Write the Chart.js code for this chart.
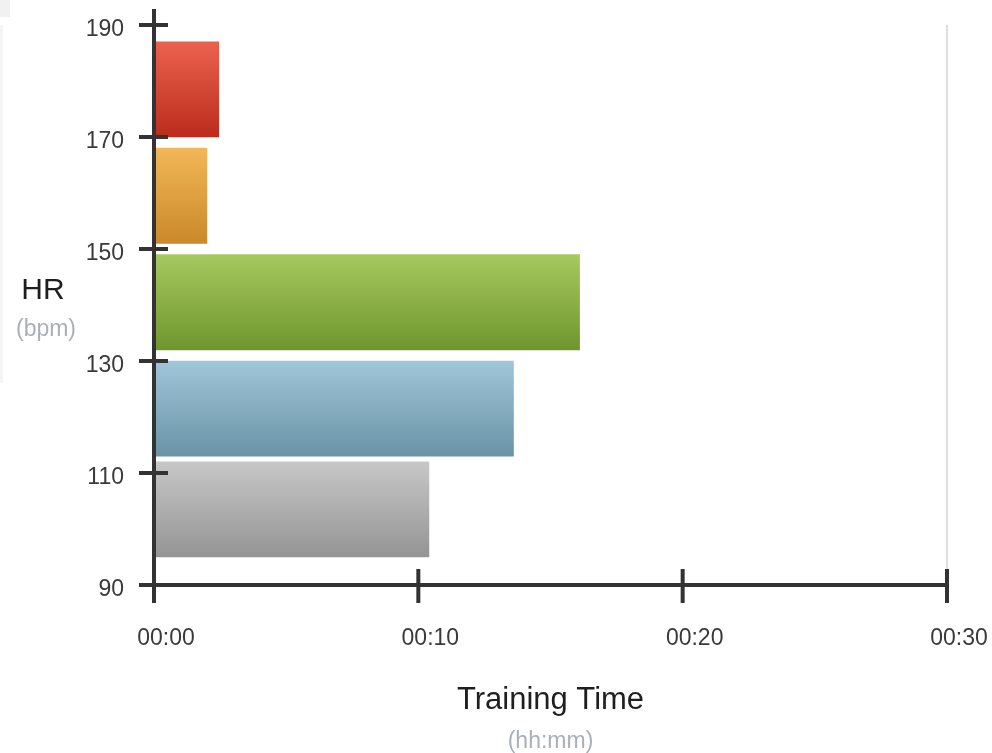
<!DOCTYPE html>
<html lang="en">
<head>
  <meta charset="UTF-8">
  <title>HR Zones - Training Time</title>
  <script src="https://cdn.jsdelivr.net/npm/chart.js"></script>
  <style>
    html, body { margin: 0; padding: 0; background: #fff; }
    canvas { display: block; }
  </style>
</head>
<body>
  <canvas id="chart" width="992" height="753"></canvas>

  <script>
    // heart rate zones (bpm), listed bottom to top
    const zoneLow = [95, 113, 132, 151, 170];
    const zoneHigh = [112, 130, 149, 168, 187];
    // time spent in each zone, in minutes
    const zoneMinutes = [10.4, 13.6, 16.1, 2.0, 2.45];
    // gradient colours per zone (top -> bottom)
    const zoneTop = ['#c7c7c7', '#a0c6d8', '#a7c95f', '#f2b758', '#ea624d'];
    const zoneBottom = ['#949494', '#6a93a7', '#6e962e', '#ca892a', '#bc2c1c'];
    // axis ticks
    const hrTicks = [90, 110, 130, 150, 170, 190];
    const timeTicks = [0, 10, 20, 30];

    const FONT = "'Liberation Sans', Arial, sans-serif";

    function fmtTime(min) {
      const h = Math.floor(min / 60);
      const m = Math.round(min % 60);
      return String(h).padStart(2, '0') + ':' + String(m).padStart(2, '0');
    }

    // axis lines + cross ticks, titles, faint panel on the left
    const decorPlugin = {
      id: 'decor',
      beforeDraw(chart) {
        const ctx = chart.ctx;
        ctx.save();
        ctx.fillStyle = '#f1f1f1';
        ctx.fillRect(0, 0, 10, 17);
        ctx.fillStyle = '#f4f4f4';
        ctx.fillRect(0, 25, 3, 358);
        ctx.restore();
      },
      afterDatasetsDraw(chart) {
        const { ctx, scales: { x, y } } = chart;
        const x0 = x.getPixelForValue(timeTicks[0]);
        const yb = y.getPixelForValue(hrTicks[0]);
        ctx.save();
        ctx.strokeStyle = '#333';
        ctx.lineWidth = 4;
        ctx.beginPath();
        ctx.moveTo(x0, yb + 18);
        ctx.lineTo(x0, y.top - 16);
        ctx.moveTo(x0 - 14, yb);
        ctx.lineTo(x.right, yb);
        y.ticks.forEach((t, i) => {
          const p = y.getPixelForTick(i);
          ctx.moveTo(x0 - 15, p);
          ctx.lineTo(x0 + 14, p);
        });
        x.ticks.forEach((t, i) => {
          const p = x.getPixelForTick(i);
          ctx.moveTo(p, yb - 16);
          ctx.lineTo(p, yb + 18);
        });
        ctx.stroke();

        // titles
        ctx.textAlign = 'center';
        ctx.textBaseline = 'middle';
        const yMid = (y.top + y.bottom) / 2;
        ctx.fillStyle = '#1e1e1e';
        ctx.font = '30px ' + FONT;
        ctx.fillText('HR', 43, yMid - 14);
        ctx.fillStyle = '#aab0b7';
        ctx.font = '23px ' + FONT;
        ctx.fillText('(bpm)', 46, yMid + 25);

        const xMid = (x.left + x.right) / 2;
        ctx.fillStyle = '#1e1e1e';
        ctx.font = '31px ' + FONT;
        ctx.fillText('Training Time', xMid, yb + 115);
        ctx.fillStyle = '#aab0b7';
        ctx.font = '23px ' + FONT;
        ctx.fillText('(hh:mm)', xMid, yb + 157);
        ctx.restore();
      }
    };

    const chart = new Chart(document.getElementById('chart'), {
      type: 'bar',
      data: {
        datasets: [{
          label: 'Time in zone',
          data: zoneMinutes.map((m, i) => ({ x: m, y: (zoneLow[i] + zoneHigh[i]) / 2 })),
          backgroundColor: zoneTop,
          borderWidth: 0,
          barThickness: 90
        }]
      },
      options: {
        indexAxis: 'y',
        responsive: false,
        animation: false,
        layout: { padding: { left: 0, right: 45, top: 25, bottom: 0 } },
        plugins: {
          legend: { display: false },
          tooltip: { enabled: false }
        },
        scales: {
          x: {
            type: 'linear',
            offset: false,
            min: timeTicks[0],
            max: timeTicks[timeTicks.length - 1],
            afterBuildTicks: (s) => { s.ticks = timeTicks.map(v => ({ value: v })); },
            afterFit: (s) => { s.height = 168; s.paddingLeft = 0; s.paddingRight = 0; },
            border: { display: false },
            grid: {
              drawTicks: false,
              offset: false,
              lineWidth: 2,
              color: (c) => (c.tick && c.tick.value === timeTicks[timeTicks.length - 1]) ? '#dedede' : 'rgba(0,0,0,0)'
            },
            ticks: {
              padding: 40,
              labelOffset: 12,
              color: '#3a3a3a',
              font: { family: FONT, size: 23 },
              callback: (v) => fmtTime(v)
            }
          },
          y: {
            type: 'linear',
            offset: false,
            min: hrTicks[0],
            max: hrTicks[hrTicks.length - 1],
            afterBuildTicks: (s) => { s.ticks = hrTicks.map(v => ({ value: v })); },
            afterFit: (s) => { s.width = 154; s.paddingTop = 0; s.paddingBottom = 0; },
            border: { display: false },
            grid: { display: false, drawTicks: false, offset: false },
            ticks: {
              padding: 30,
              labelOffset: 5,
              color: '#3a3a3a',
              font: { family: FONT, size: 23 }
            }
          }
        }
      },
      plugins: [decorPlugin]
    });

    // size the bars to their bpm range and give each a vertical gradient
    function fitZones() {
      const y = chart.scales.y;
      const ctx = chart.ctx;
      const heights = zoneLow.map((lo, i) => Math.abs(y.getPixelForValue(lo) - y.getPixelForValue(zoneHigh[i])));
      const ds = chart.data.datasets[0];
      ds.barThickness = heights.reduce((a, b) => a + b, 0) / heights.length;
      ds.backgroundColor = zoneLow.map((lo, i) => {
        const g = ctx.createLinearGradient(0, y.getPixelForValue(zoneHigh[i]), 0, y.getPixelForValue(lo));
        g.addColorStop(0, zoneTop[i]);
        g.addColorStop(1, zoneBottom[i]);
        return g;
      });
      chart.update('none');
    }

    fitZones();
  </script>
</body>
</html>
